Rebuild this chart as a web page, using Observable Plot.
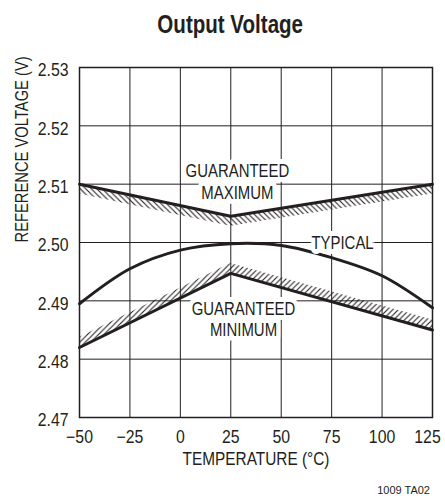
<!DOCTYPE html>
<html><head><meta charset="utf-8">
<script src="https://cdn.jsdelivr.net/npm/d3@7"></script>
<script src="https://cdn.jsdelivr.net/npm/@observablehq/plot@0.6"></script>
<style>
body{margin:0;background:#fff;}
#wrap{width:445px;height:500px;position:relative;font-family:"Liberation Sans",Arial,sans-serif;color:#231f20;}
#title{height:48px;line-height:48px;font-size:26px;font-weight:bold;text-align:center;padding-left:16px;}
#title span{display:inline-block;transform:scaleX(0.79);transform-origin:center;}
#chart svg{display:block;}
#caption{height:20px;line-height:20px;font-size:11px;text-align:right;padding-right:15px;}
</style></head><body>
<div id="wrap"><div id="title"><span>Output Voltage</span></div><div id="chart"></div><div id="caption">1009 TA02</div></div>
<script>
const temps = [-50, -25, 0, 25, 50, 75, 100, 125];
const typical = [2.4895, 2.4955, 2.4987, 2.4998, 2.4995, 2.4974, 2.4943, 2.4888];
const maxTemps = [-50, 25, 125];
const maxV = [2.5100, 2.5045, 2.5100];
const minTemps = [-50, 25, 125];
const minV = [2.4820, 2.4947, 2.4850];
const xTicks = [-50, -25, 0, 25, 50, 75, 100, 125];
const yTicks = [2.47, 2.48, 2.49, 2.50, 2.51, 2.52, 2.53];
const labelText = ["GUARANTEED\nMAXIMUM", "TYPICAL", "GUARANTEED\nMINIMUM"];
const labelT = [28.3, 80.4, 31.3];
const labelV = [2.5105, 2.5001, 2.4869];
const hatchDepth = 0.0017;

const typData = temps.map((t, i) => ({t, v: typical[i]}));
const maxData = maxTemps.map((t, i) => ({t, v: maxV[i]}));
const minData = minTemps.map((t, i) => ({t, v: minV[i]}));
const labels = labelText.map((s, i) => ({s, t: labelT[i], v: labelV[i]}));

const ink = "#231f20";
const font = '"Liberation Sans",Arial,sans-serif';

const chart = Plot.plot({
  width: 445, height: 432,
  marginLeft: 79, marginRight: 13, marginTop: 19, marginBottom: 63,
  style: {fontFamily: font, fontSize: "18px", color: ink, background: "#fff"},
  x: {domain: [-50, 125]},
  y: {domain: [2.47, 2.53]},
  marks: [
    Plot.gridX(xTicks, {stroke: ink, strokeOpacity: 1, strokeWidth: 1}),
    Plot.gridY(yTicks, {stroke: ink, strokeOpacity: 1, strokeWidth: 1}),
    Plot.areaY(maxData, {x: "t", y1: d => d.v - hatchDepth, y2: "v", fill: "url(#hatchDown)"}),
    Plot.areaY(minData, {x: "t", y1: "v", y2: d => d.v + hatchDepth, fill: "url(#hatchUp)"}),
    Plot.line(typData, {x: "t", y: "v", curve: "catmull-rom", stroke: ink, strokeWidth: 3}),
    Plot.line(maxData, {x: "t", y: "v", stroke: ink, strokeWidth: 3}),
    Plot.line(minData, {x: "t", y: "v", stroke: ink, strokeWidth: 3}),
    Plot.text(labels, {x: "t", y: "v", text: "s", fill: ink, stroke: "white", strokeWidth: 10, paintOrder: "stroke", lineHeight: 1.17, fontSize: 18, className: "lbl"}),
    Plot.frame({stroke: ink, strokeWidth: 1.5}),
    Plot.axisX(xTicks.slice(0, -1), {tickSize: 0, tickPadding: 13, label: null, fontSize: 18, className: "tick"}),
    Plot.axisX(xTicks.slice(-1), {tickSize: 0, tickPadding: 13, dx: -5, label: null, fontSize: 18, className: "tick"}),
    Plot.axisY(yTicks, {tickSize: 0, tickPadding: 11, dy: 3, tickFormat: d => d.toFixed(2), label: null, fontSize: 18, className: "tick"}),
    Plot.text(["TEMPERATURE (°C)"], {text: d => d, frameAnchor: "bottom", dy: 47, lineAnchor: "bottom", fontSize: 18, fill: ink, className: "xtitle"}),
    Plot.text(["REFERENCE VOLTAGE (V)"], {text: d => d, frameAnchor: "left", rotate: -90, dx: -52, lineAnchor: "bottom", fontSize: 18, fill: ink, className: "ytitle"})
  ]
});

const ns = "http://www.w3.org/2000/svg";
const defs = document.createElementNS(ns, "defs");
defs.innerHTML = `
<pattern id="hatchDown" patternUnits="userSpaceOnUse" width="5.5" height="5.5">
  <path d="M0,0 L5.5,5.5 M-1,4.5 L1,6.5 M4.5,-1 L6.5,1" stroke="${ink}" stroke-width="1.1" fill="none"/>
</pattern>
<pattern id="hatchUp" patternUnits="userSpaceOnUse" width="5.5" height="5.5">
  <path d="M0,5.5 L5.5,0 M-1,1 L1,-1 M4.5,6.5 L6.5,4.5" stroke="${ink}" stroke-width="1.1" fill="none"/>
</pattern>`;
chart.insertBefore(defs, chart.firstChild);
document.getElementById("chart").appendChild(chart);

// condense text horizontally (along its own direction) to mimic a narrow sans face
function condense(selector, k) {
  chart.querySelectorAll(selector + " text").forEach(t => {
    const tr = t.getAttribute("transform");
    if (tr) {
      t.setAttribute("transform", tr + ` scale(${k},1)`);
    } else {
      const x = +(t.getAttribute("x") || 0);
      t.setAttribute("transform", `translate(${x},0) scale(${k},1) translate(${-x},0)`);
    }
  });
}
condense(".lbl", 0.83);
condense(".tick", 0.88);
condense(".xtitle", 0.855);
condense(".ytitle", 0.82);
</script>
</body></html>
